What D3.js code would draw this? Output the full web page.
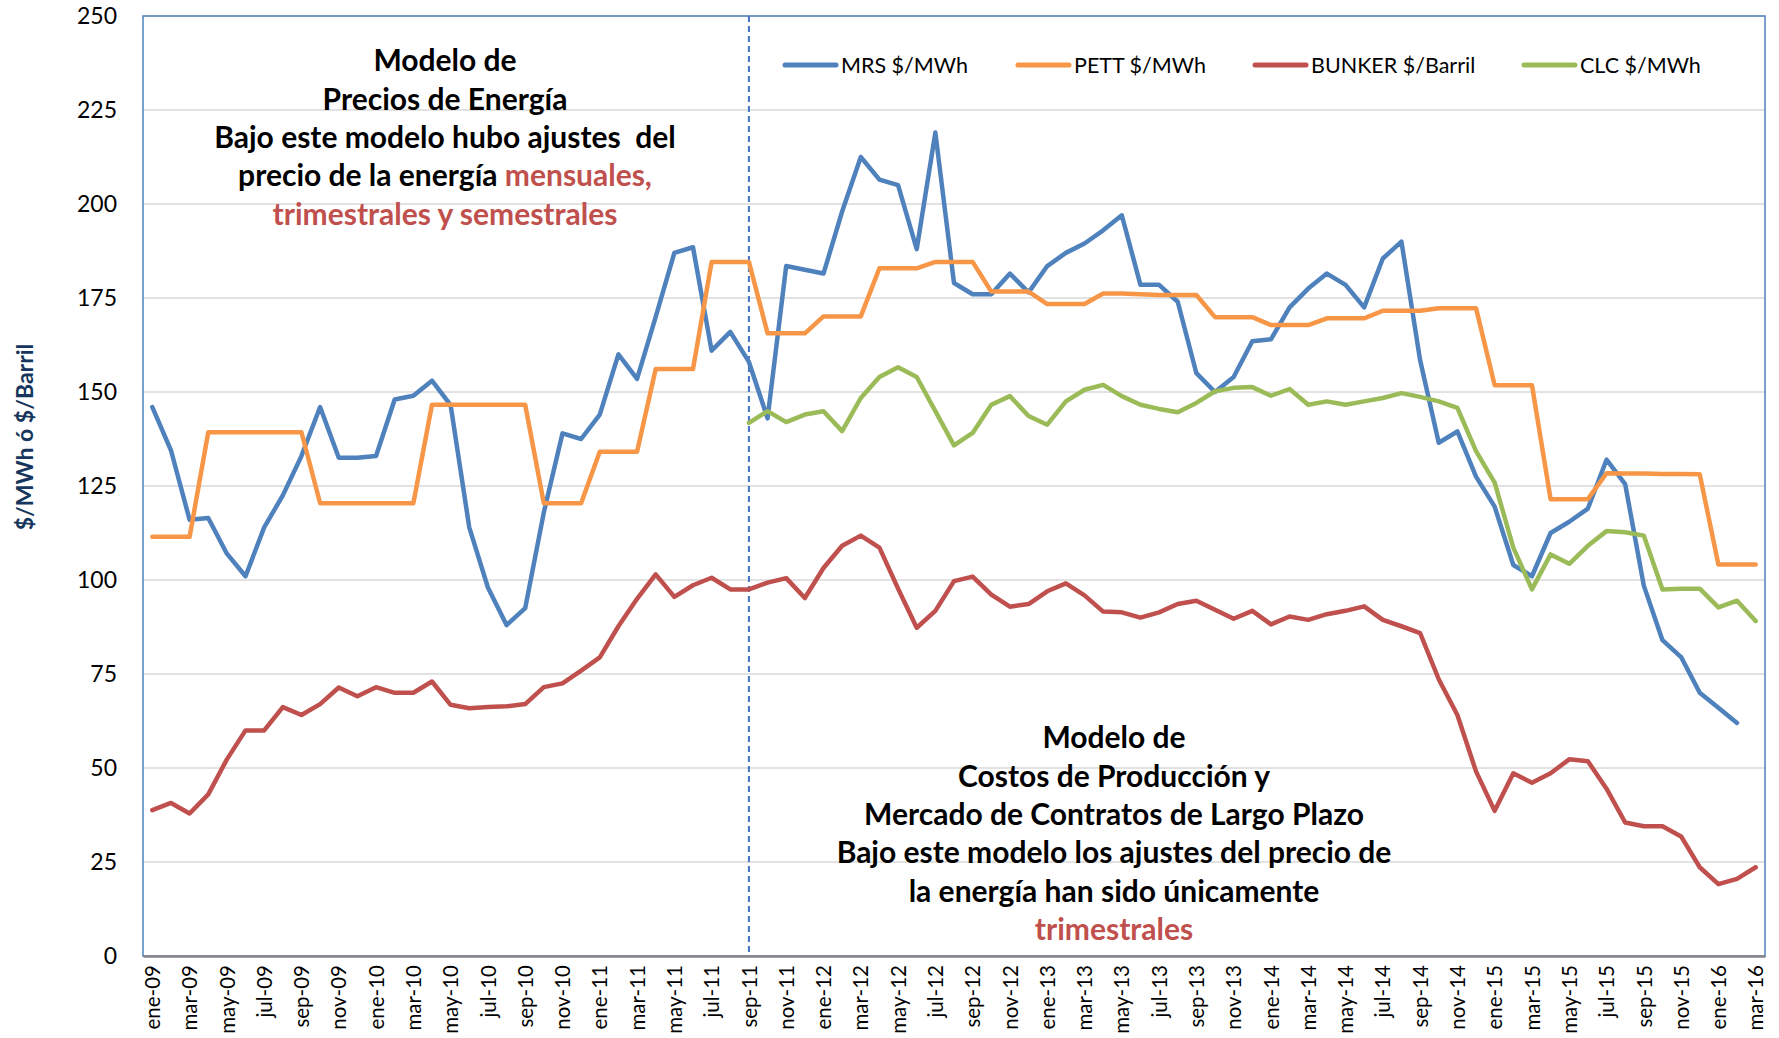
<!DOCTYPE html>
<html>
<head>
<meta charset="utf-8">
<script src="https://cdn.jsdelivr.net/npm/d3@7/dist/d3.min.js"></script>
<style>
  body { margin: 0; background: #fff; }
  svg text { font-family: Lato, "Open Sans", sans-serif; }
</style>
</head>
<body>
<div id="chart"></div>
<script>
// month labels ene-09 .. mar-16
var monthNames = ["ene", "feb", "mar", "abr", "may", "jun", "jul", "ago", "sep", "oct", "nov", "dic"];
var years = ["09", "10", "11", "12", "13", "14", "15", "16"];
var months = [];
years.forEach(function(yy) {
  monthNames.forEach(function(m) {
    if (months.length < 87) months.push(m + "-" + yy);
  });
});

var yTicks = [0, 25, 50, 75, 100, 125, 150, 175, 200, 225, 250];
var splitMonth = "sep-11";

var mrs = [146, 134.5, 116, 116.5, 107, 101, 114, 122.5, 133, 146, 132.5, 132.5,
  133, 148, 149, 153, 146.5, 114, 98, 88, 92.5, 118, 139, 137.5,
  144, 160, 153.5, 170, 187, 188.5, 161, 166, 158, 143, 183.5, 182.5,
  181.5, 198, 212.5, 206.5, 205, 188, 219, 179, 176, 176, 181.5, 176.5,
  183.5, 187, 189.5, 193, 197, 178.5, 178.5, 174, 155, 150, 154, 163.5,
  164, 172.5, 177.5, 181.5, 178.5, 172.5, 185.5, 190, 158.5, 136.5, 139.5, 127.5,
  119.5, 104, 101, 112.5, 115.5, 119, 132, 125.5, 98.5, 84, 79.5, 70,
  66, 62, null];

var pett = [111.5, 111.5, 111.5, 139.3, 139.3, 139.3, 139.3, 139.3, 139.3, 120.4, 120.4, 120.4,
  120.4, 120.4, 120.4, 146.6, 146.6, 146.6, 146.6, 146.6, 146.6, 120.4, 120.4, 120.4,
  134.1, 134.1, 134.1, 156.1, 156.1, 156.1, 184.6, 184.6, 184.6, 165.6, 165.6, 165.6,
  170.1, 170.1, 170.1, 182.9, 182.9, 182.9, 184.6, 184.6, 184.6, 176.7, 176.7, 176.7,
  173.4, 173.4, 173.4, 176.2, 176.2, 176.0, 175.8, 175.8, 175.8, 169.9, 169.9, 169.9,
  167.8, 167.8, 167.8, 169.6, 169.6, 169.6, 171.6, 171.6, 171.6, 172.3, 172.3, 172.3,
  151.8, 151.8, 151.8, 121.5, 121.5, 121.5, 128.4, 128.3, 128.3, 128.2, 128.2, 128.1,
  104.1, 104.1, 104.1];

var bunker = [38.8, 40.7, 37.9, 43.0, 52.3, 60.0, 60.0, 66.2, 64.1, 67.0, 71.4, 69.1,
  71.5, 70.0, 70.0, 73.0, 66.8, 65.9, 66.2, 66.4, 67.0, 71.5, 72.5, 75.9,
  79.4, 87.7, 95.0, 101.5, 95.5, 98.6, 100.6, 97.5, 97.5, 99.3, 100.5, 95.2,
  103.2, 109.1, 111.8, 108.6, 97.7, 87.3, 91.8, 99.7, 100.9, 96.1, 92.9, 93.6,
  97.0, 99.1, 95.9, 91.6, 91.4, 90.0, 91.4, 93.6, 94.5, 92.1, 89.7, 91.8,
  88.2, 90.3, 89.4, 90.9, 91.8, 93.0, 89.4, 87.7, 85.9, 73.6, 64.1, 49.1,
  38.6, 48.6, 46.1, 48.6, 52.3, 51.8, 44.5, 35.5, 34.5, 34.5, 31.8, 23.6,
  19.1, 20.5, 23.6];

var clc = [null, null, null, null, null, null, null, null, null, null, null, null,
  null, null, null, null, null, null, null, null, null, null, null, null,
  null, null, null, null, null, null, null, null, 141.8, 144.9, 142.0, 144.0,
  144.9, 139.6, 148.4, 154.0, 156.6, 154.0, 144.9, 135.8, 139.1, 146.6, 148.9, 143.6,
  141.3, 147.5, 150.6, 151.9, 148.9, 146.6, 145.5, 144.6, 147.1, 150.2, 151.1, 151.3,
  149.0, 150.8, 146.6, 147.5, 146.6, 147.5, 148.4, 149.7, 148.7, 147.5, 145.8, 134.3,
  125.9, 108.6, 97.5, 106.8, 104.3, 109.1, 113.0, 112.7, 111.8, 97.5, 97.7, 97.7,
  92.7, 94.5, 89.1];

var seriesNames = ["MRS $/MWh", "PETT $/MWh", "BUNKER $/Barril", "CLC $/MWh"];
var seriesColors = ["#4F81BD", "#F79646", "#C0504D", "#9BBB59"];
var seriesData = [mrs, pett, bunker, clc];

var W = 1779, H = 1038;
var margin = {top: 16, right: 14, bottom: 82, left: 143},
    width = W - margin.left - margin.right,
    height = H - margin.top - margin.bottom;

var svg = d3.select("#chart")
  .append("svg")
  .attr("width", W)
  .attr("height", H);

var g = svg.append("g")
  .attr("transform", "translate(" + margin.left + "," + margin.top + ")");

var x = d3.scalePoint().domain(months).range([0, width]).padding(0.5);
var y = d3.scaleLinear().domain([0, 250]).range([height, 0]);

// gridlines
g.append("g").selectAll("line")
  .data(yTicks.filter(function(d) { return d > 0; }))
  .enter().append("line")
  .attr("x1", 0).attr("x2", width)
  .attr("y1", function(d) { return y(d); })
  .attr("y2", function(d) { return y(d); })
  .attr("stroke", "#D9D9D9")
  .attr("stroke-width", 1.5);

// plot border
g.append("rect")
  .attr("x", 0).attr("y", 0)
  .attr("width", width).attr("height", height)
  .attr("fill", "none")
  .attr("stroke", "#4F81BD")
  .attr("stroke-width", 1.5);

// y axis labels
var yAxis = g.append("g").call(d3.axisLeft(y).tickValues(yTicks).tickSize(0).tickPadding(26));
yAxis.select(".domain").remove();
yAxis.selectAll("text")
  .attr("font-size", 23)
  .attr("fill", "#000")
  .style("font-family", "Lato, sans-serif");

// x axis
var xAxis = g.append("g")
  .attr("transform", "translate(0," + height + ")")
  .call(d3.axisBottom(x).tickValues(months.filter(function(d, i) { return i % 2 === 0; })).tickSize(0));
xAxis.select(".domain").attr("stroke", "#868686").attr("stroke-width", 2.5);
xAxis.selectAll("text")
  .attr("font-size", 20.5)
  .attr("fill", "#000")
  .attr("text-anchor", "end")
  .attr("transform", "rotate(-90)")
  .attr("x", -9)
  .attr("y", 0)
  .attr("dy", "0.35em")
  .style("font-family", "Lato, sans-serif");

// split line at sep-11
g.append("line")
  .attr("x1", x(splitMonth)).attr("x2", x(splitMonth))
  .attr("y1", 0).attr("y2", height)
  .attr("stroke", "#4472C4")
  .attr("stroke-width", 2)
  .attr("stroke-dasharray", "6,4");

// series lines
var line = d3.line()
  .defined(function(d) { return d != null; })
  .x(function(d, i) { return x(months[i]); })
  .y(function(d) { return y(d); });

seriesData.forEach(function(s, k) {
  g.append("path")
    .datum(s)
    .attr("fill", "none")
    .attr("stroke", seriesColors[k])
    .attr("stroke-width", 4.5)
    .attr("stroke-linejoin", "round")
    .attr("stroke-linecap", "round")
    .attr("d", line);
});

// legend
var legendX = [785, 1018, 1255, 1524];
var legend = svg.append("g").attr("transform", "translate(0,65)");
seriesNames.forEach(function(name, k) {
  legend.append("line")
    .attr("x1", legendX[k]).attr("x2", legendX[k] + 51)
    .attr("y1", 0).attr("y2", 0)
    .attr("stroke", seriesColors[k])
    .attr("stroke-width", 5)
    .attr("stroke-linecap", "round");
  legend.append("text")
    .attr("x", legendX[k] + 56)
    .attr("y", 0)
    .attr("dy", "0.35em")
    .attr("font-size", 21.5)
    .text(name);
});

// y axis title
svg.append("text")
  .attr("transform", "translate(33,437) rotate(-90)")
  .attr("text-anchor", "middle")
  .attr("font-size", 23)
  .attr("font-weight", "bold")
  .attr("fill", "#17365D")
  .text("$/MWh ó $/Barril");

// annotations
var red = "#C0504D";
function note(cx, cy, lines) {
  var t = svg.append("text")
    .attr("text-anchor", "middle")
    .attr("font-size", 30)
    .attr("font-weight", "bold");
  lines.forEach(function(parts, i) {
    parts.forEach(function(p, j) {
      var ts = t.append("tspan").text(p[0]).attr("fill", p[1] ? red : "#000");
      if (j === 0) ts.attr("x", cx).attr("y", cy[i]).attr("dy", "0.35em");
    });
  });
}

note(445, [60, 99, 137, 175, 214], [
  [["Modelo de"]],
  [["Precios de Energía"]],
  [["Bajo este modelo hubo ajustes\u00a0 del"]],
  [["precio de la energía "], ["mensuales,", true]],
  [["trimestrales y semestrales", true]]
]);

note(1114, [737, 776, 814, 852, 891, 929], [
  [["Modelo de"]],
  [["Costos de Producción y"]],
  [["Mercado de Contratos de Largo Plazo"]],
  [["Bajo este modelo los ajustes del precio de"]],
  [["la energía han sido únicamente"]],
  [["trimestrales", true]]
]);
</script>
</body>
</html>
